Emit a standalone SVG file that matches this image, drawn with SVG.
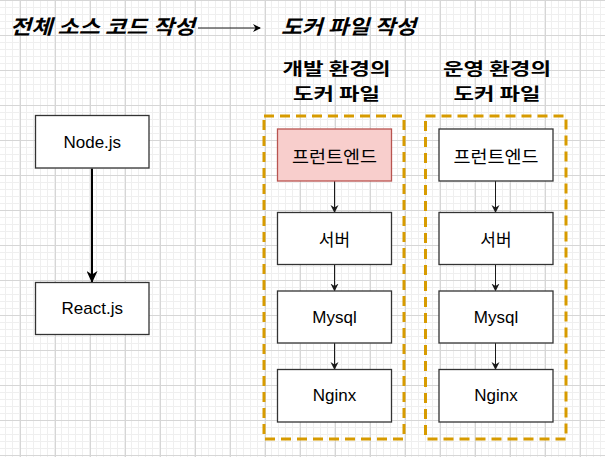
<svg xmlns="http://www.w3.org/2000/svg" width="605" height="457" viewBox="0 0 605 457">
<style>
.box{fill:#ffffff;stroke:#333333;stroke-width:1.3}
.red{fill:#f8cecc;stroke:#b85450;stroke-width:1.3}
.lbl{font-family:"Liberation Sans","Noto Sans CJK KR",sans-serif;font-size:17px;fill:#000;text-anchor:middle;dominant-baseline:central}
.kr{font-family:"Noto Sans CJK KR","Liberation Sans",sans-serif;font-size:17px;fill:#000;text-anchor:middle;dominant-baseline:central}
.title{font-family:"Noto Sans CJK KR",sans-serif;font-size:20px;font-weight:bold;font-style:italic;fill:#000}
.head{font-family:"Noto Sans CJK KR",sans-serif;font-size:17px;font-weight:bold;fill:#000;text-anchor:middle}
.cont{fill:none;stroke:#d79b00;stroke-width:3;stroke-dasharray:10 6}
.thin{stroke:#1a1a1a;stroke-width:1;fill:none}
.thick{stroke:#000;stroke-width:2;fill:none}
</style>
<defs>
<pattern id="minor" x="20" y="0" width="7" height="7" patternUnits="userSpaceOnUse">
<path d="M0.5 0V7M0 0.5H7" stroke="#efefef" stroke-width="1" fill="none"/>
</pattern>
<pattern id="major" x="20" y="0" width="35" height="35" patternUnits="userSpaceOnUse">
<rect width="35" height="35" fill="url(#minor)"/>
<path d="M0.5 0V35M0 0.5H35" stroke="#d6d6d6" stroke-width="1" fill="none"/>
</pattern>
<marker id="ahThin" markerWidth="8" markerHeight="10" refX="7" refY="4" orient="auto" markerUnits="userSpaceOnUse" viewBox="0 0 8 8">
<path d="M0 0L8 4L0 8L2.5 4Z" fill="#1a1a1a"/>
</marker>
<marker id="ahThick" markerWidth="12" markerHeight="11" refX="11" refY="5.5" orient="auto" markerUnits="userSpaceOnUse" viewBox="0 0 12 11">
<path d="M0 0L12 5.5L0 11L3.5 5.5Z" fill="#000"/>
</marker>
<marker id="ahTitle" markerWidth="8" markerHeight="8" refX="7" refY="4" orient="auto" markerUnits="userSpaceOnUse" viewBox="0 0 8 8">
<path d="M0 0L8 4L0 8L2.5 4Z" fill="#000"/>
</marker>
</defs>
<rect width="605" height="457" fill="#ffffff"/>
<rect width="605" height="457" fill="url(#major)"/>

<g id="connectors">
<path class="thick" d="M92 168.5V282" marker-end="url(#ahThick)"/>
<path class="thin" d="M198 28H260" marker-end="url(#ahTitle)"/>
<path class="thin" d="M334.5 181V212" marker-end="url(#ahThin)"/>
<path class="thin" d="M334.5 264.5V290.5" marker-end="url(#ahThin)"/>
<path class="thin" d="M334.5 343V369" marker-end="url(#ahThin)"/>
<path class="thin" d="M495.5 181V212" marker-end="url(#ahThin)"/>
<path class="thin" d="M495.5 264.5V290.5" marker-end="url(#ahThin)"/>
<path class="thin" d="M495.5 343V369" marker-end="url(#ahThin)"/>
</g>

<g id="title-left"><text class="title" x="10" y="34" textLength="185" lengthAdjust="spacingAndGlyphs">전체 소스 코드 작성</text></g>
<g id="title-right"><text class="title" x="281" y="34" textLength="135" lengthAdjust="spacingAndGlyphs">도커 파일 작성</text></g>

<g id="head-dev"><text class="head" x="336.5" y="74.5" textLength="108" lengthAdjust="spacingAndGlyphs">개발 환경의</text><text class="head" x="336.5" y="99.5" textLength="87" lengthAdjust="spacingAndGlyphs">도커 파일</text></g>
<g id="head-prod"><text class="head" x="497" y="74.5" textLength="108" lengthAdjust="spacingAndGlyphs">운영 환경의</text><text class="head" x="497" y="99.5" textLength="87" lengthAdjust="spacingAndGlyphs">도커 파일</text></g>

<g id="node-js"><rect class="box" x="35.5" y="115.5" width="113.5" height="52.5"/><text class="lbl" x="92.3" y="142">Node.js</text></g>
<g id="react-js"><rect class="box" x="35.5" y="282.5" width="113.5" height="52"/><text class="lbl" x="92.3" y="308.5">React.js</text></g>

<g id="dev-container"><rect class="cont" x="264" y="116" width="140" height="323"/></g>
<g id="dev-frontend"><rect class="red" x="277.5" y="129" width="114" height="52"/><text class="kr" x="334.5" y="155" textLength="85" lengthAdjust="spacingAndGlyphs">프런트엔드</text></g>
<g id="dev-server"><rect class="box" x="277.5" y="212.5" width="114" height="52"/><text class="kr" x="334.5" y="238.5">서버</text></g>
<g id="dev-mysql"><rect class="box" x="277.5" y="291" width="114" height="52"/><text class="lbl" x="334.5" y="317">Mysql</text></g>
<g id="dev-nginx"><rect class="box" x="277.5" y="369.5" width="114" height="52.5"/><text class="lbl" x="334.5" y="395.5">Nginx</text></g>

<g id="prod-container"><rect class="cont" x="425.5" y="116" width="140.5" height="323"/></g>
<g id="prod-frontend"><rect class="box" x="439" y="129" width="114" height="52"/><text class="kr" x="496" y="155" textLength="85" lengthAdjust="spacingAndGlyphs">프런트엔드</text></g>
<g id="prod-server"><rect class="box" x="439" y="212.5" width="114" height="52"/><text class="kr" x="496" y="238.5">서버</text></g>
<g id="prod-mysql"><rect class="box" x="439" y="291" width="114" height="52"/><text class="lbl" x="496" y="317">Mysql</text></g>
<g id="prod-nginx"><rect class="box" x="439" y="369.5" width="114" height="52.5"/><text class="lbl" x="496" y="395.5">Nginx</text></g>
</svg>
